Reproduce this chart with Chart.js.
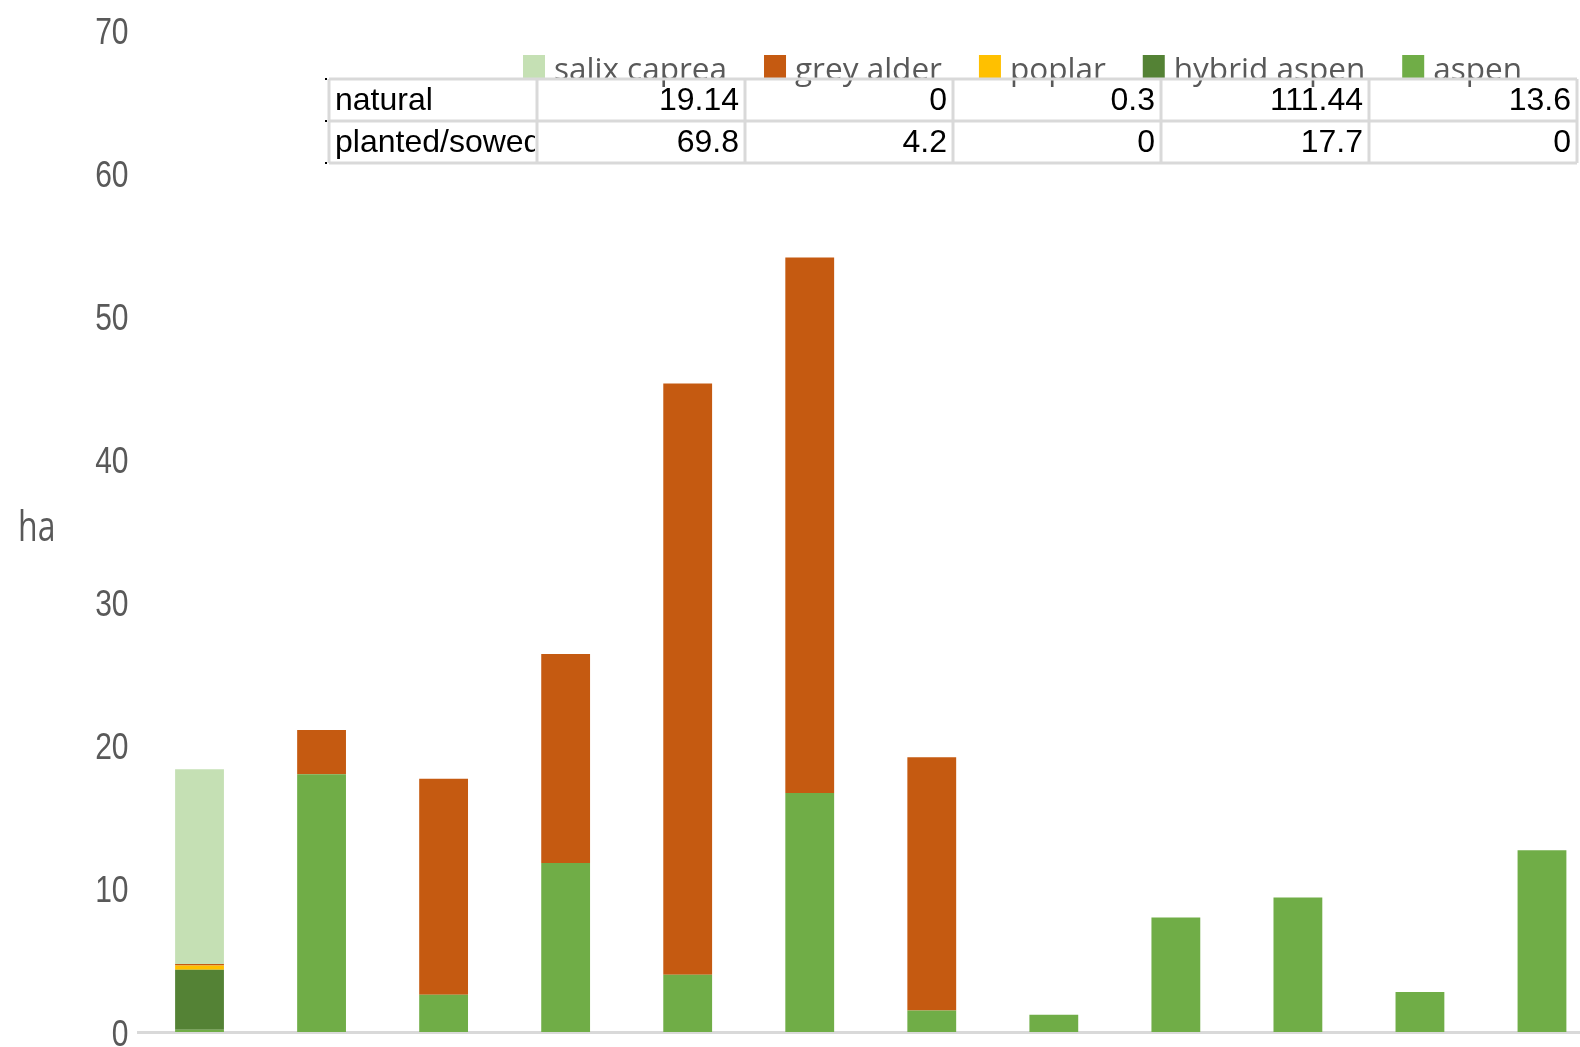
<!DOCTYPE html>
<html>
<head>
<meta charset="utf-8">
<script src="https://cdn.jsdelivr.net/npm/chart.js@4.4.1/dist/chart.umd.min.js"></script>
<style>
  html, body { margin: 0; padding: 0; background: #fff; overflow: hidden; }
  #wrap { width: 1580px; height: 1047px; overflow: hidden; }
  canvas { display: block; }
</style>
</head>
<body>
<div id="wrap"><canvas id="chart" width="1603" height="1047"></canvas></div>
<script>
// categories (no labels shown on the original axis)
const categories = ['1', '2', '3', '4', '5', '6', '7', '8', '9', '10', '11', '12'];

// stacked values in ha, bottom to top
const aspen       = [0.15, 18.0, 2.6, 11.8, 4.0, 16.7, 1.5, 1.2, 8.0, 9.4, 2.8, 12.7];
const hybridAspen = [4.2, 0, 0, 0, 0, 0, 0, 0, 0, 0, 0, 0];
const poplar      = [0.3, 0, 0, 0, 0, 0, 0, 0, 0, 0, 0, 0];
const greyAlder   = [0.1, 3.1, 15.1, 14.6, 41.3, 37.4, 17.7, 0, 0, 0, 0, 0];
const salixCaprea = [13.6, 0, 0, 0, 0, 0, 0, 0, 0, 0, 0, 0];

const yTicks = [0, 10, 20, 30, 40, 50, 60, 70];

// data table shown over the chart (legend order)
const tableRows = ['natural', 'planted/sowed'];
const naturalTotals = [19.14, 0, 0.3, 111.44, 13.6];
const plantedTotals = [69.8, 4.2, 0, 17.7, 0];

const colors = {
    aspen: '#70AD47',
    hybrid: '#548235',
    poplar: '#FFC000',
    alder: '#C55A11',
    salix: '#C5E0B4'
};
const textGray = '#595959';
const lineGray = '#D9D9D9';

// legend + data table + axis texts (the original font is tall and narrow)
const overlayPlugin = {
    id: 'overlay',
    afterDraw(chart) {
        const ctx = chart.ctx;
        const sets = chart.data.datasets.slice().reverse();
        ctx.save();

        // y tick labels, placed by the y scale
        const ys = chart.scales.y;
        ctx.fillStyle = textGray;
        ctx.font = '30px "Liberation Sans", Arial, sans-serif';
        ctx.textAlign = 'right';
        ctx.textBaseline = 'alphabetic';
        ys.ticks.forEach(t => {
            const py = ys.getPixelForValue(t.value);
            ctx.save();
            ctx.translate(ys.right - 10, py + 13.5);
            ctx.scale(1, 1.25);
            ctx.fillText(String(t.value), 0, 0);
            ctx.restore();
        });

        // legend
        ctx.font = '31.5px "Open Sans", sans-serif';
        ctx.textAlign = 'left';
        let x = 523;
        sets.forEach(ds => {
            ctx.fillStyle = ds.backgroundColor;
            ctx.fillRect(x, 55, 22, 25);
            x += 31;
            ctx.fillStyle = textGray;
            ctx.fillText(ds.label, x, 80);
            x += ctx.measureText(ds.label).width + 37;
        });

        // table grid
        const left = 329, firstW = 208, cellW = 208;
        const rowsY = [79, 121, 163];
        const colsX = [left, left + firstW];
        for (let i = 1; i <= naturalTotals.length; i++) colsX.push(left + firstW + i * cellW);
        ctx.strokeStyle = lineGray;
        ctx.lineWidth = 3;
        ctx.beginPath();
        rowsY.forEach(y => { ctx.moveTo(left, y); ctx.lineTo(colsX[colsX.length - 1], y); });
        colsX.forEach(cx => { ctx.moveTo(cx, rowsY[0]); ctx.lineTo(cx, rowsY[2]); });
        ctx.stroke();
        ctx.fillStyle = '#000';
        rowsY.forEach(y => ctx.fillRect(325, y - 1, 2, 2));

        // table text
        ctx.font = '32px "Liberation Sans", Arial, sans-serif';
        const rowVals = [naturalTotals, plantedTotals];
        tableRows.forEach((name, r) => {
            const base = rowsY[r] + 31;
            ctx.save();
            ctx.beginPath();
            ctx.rect(colsX[0] + 2, rowsY[r], colsX[1] - colsX[0] - 4, 42);
            ctx.clip();
            ctx.textAlign = 'left';
            ctx.fillText(name, colsX[0] + 6, base);
            ctx.restore();
            ctx.textAlign = 'right';
            rowVals[r].forEach((v, c) => {
                ctx.fillText(String(v), colsX[c + 2] - 6, base);
            });
        });

        // axis unit label
        ctx.translate(18, 541);
        ctx.scale(1, 1.3);
        ctx.font = '32px "Open Sans", sans-serif';
        ctx.fillStyle = textGray;
        ctx.textAlign = 'left';
        ctx.fillText('ha', 0, 0);
        ctx.restore();
    }
};

const ctx = document.getElementById('chart').getContext('2d');
new Chart(ctx, {
    type: 'bar',
    data: {
        labels: categories,
        datasets: [
            { label: 'aspen', data: aspen, backgroundColor: colors.aspen },
            { label: 'hybrid aspen', data: hybridAspen, backgroundColor: colors.hybrid },
            { label: 'poplar', data: poplar, backgroundColor: colors.poplar },
            { label: 'grey alder', data: greyAlder, backgroundColor: colors.alder },
            { label: 'salix caprea', data: salixCaprea, backgroundColor: colors.salix }
        ]
    },
    options: {
        responsive: false,
        animation: false,
        devicePixelRatio: 1,
        layout: { padding: { top: 30, left: 0, right: 0, bottom: 0 } },
        datasets: {
            bar: { categoryPercentage: 1, barPercentage: 0.4, borderWidth: 0 }
        },
        scales: {
            x: {
                stacked: true,
                grid: { display: false },
                ticks: { display: false },
                border: { display: true, color: lineGray, width: 3 },
                afterFit(scale) { scale.height = 15; }
            },
            y: {
                stacked: true,
                min: 0,
                max: 70,
                afterBuildTicks(scale) { scale.ticks = yTicks.map(v => ({ value: v })); },
                grid: { display: false, drawTicks: false },
                border: { display: false },
                ticks: { display: false },
                afterFit(scale) {
                    scale.width = 138.5;
                    scale.paddingTop = 0;
                    scale.paddingBottom = 0;
                }
            }
        },
        plugins: {
            legend: { display: false },
            tooltip: { enabled: false }
        }
    },
    plugins: [overlayPlugin]
});
</script>
</body>
</html>
